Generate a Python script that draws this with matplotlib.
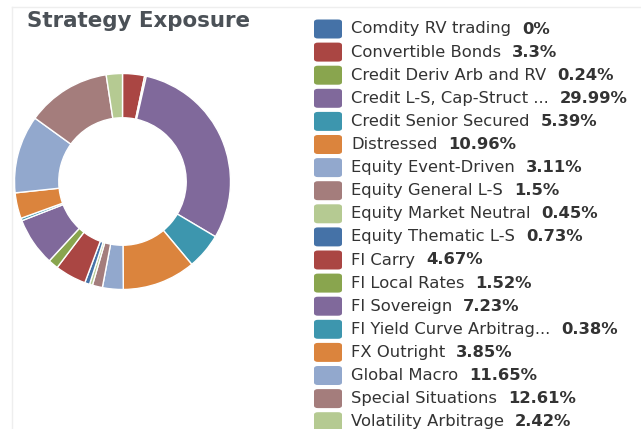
import matplotlib
matplotlib.use("Agg")
import matplotlib.pyplot as plt
from matplotlib.patches import FancyBboxPatch
from matplotlib.lines import Line2D

# strategy buckets and their exposure (%)
strategies = ["Comdity RV trading", "Convertible Bonds", "Credit Deriv Arb and RV",
              "Credit L-S, Cap-Struct ...", "Credit Senior Secured", "Distressed",
              "Equity Event-Driven", "Equity General L-S", "Equity Market Neutral",
              "Equity Thematic L-S", "FI Carry", "FI Local Rates", "FI Sovereign",
              "FI Yield Curve Arbitrag...", "FX Outright", "Global Macro",
              "Special Situations", "Volatility Arbitrage"]
exposure = [0, 3.3, 0.24, 29.99, 5.39, 10.96, 3.11, 1.5, 0.45,
            0.73, 4.67, 1.52, 7.23, 0.38, 3.85, 11.65, 12.61, 2.42]

palette = ["#4572A7", "#AA4643", "#89A54E", "#80699B", "#3D96AE",
           "#DB843D", "#92A8CD", "#A47D7C", "#B5CA92"]
colors = [palette[i % len(palette)] for i in range(len(strategies))]

W, H = 641, 429
fig = plt.figure(figsize=(W / 100, H / 100), dpi=100)
fig.patch.set_facecolor("white")

def fx(px):
    return px / W

def fy(py):
    return 1 - py / H

# faint panel border
fig.add_artist(Line2D([fx(12), fx(12)], [0, fy(7)], color="#eeeeee", lw=1))
fig.add_artist(Line2D([fx(12), 1], [fy(7), fy(7)], color="#eeeeee", lw=1))

fig.text(fx(27), fy(21), "Strategy Exposure", fontsize=15.4, fontweight="bold",
         color="#4b5157", va="center", ha="left", family="DejaVu Sans")

# donut
cx, cy, r = 122.5, 181.5, 108
ax = fig.add_axes([fx(cx - r), fy(cy + r), 2 * r / W, 2 * r / H])
ax.pie(exposure, colors=colors, startangle=90, counterclock=False, radius=1,
       wedgeprops=dict(width=0.41, edgecolor="white", linewidth=1.0))
ax.set_xlim(-1, 1)
ax.set_ylim(-1, 1)
ax.set_aspect("auto")
ax.axis("off")

# legend, drawn by hand so it can run off the bottom like the original
fig.canvas.draw()
renderer = fig.canvas.get_renderer()
row_h = 23.1
for i, (name, val, col) in enumerate(zip(strategies, exposure, colors)):
    yc = 29 + i * row_h
    box = FancyBboxPatch((fx(314), fy(yc + 9.5)), fx(28), 19 / H,
                         boxstyle="round,pad=0,rounding_size=0.006",
                         transform=fig.transFigure, facecolor=col,
                         edgecolor="none")
    fig.add_artist(box)
    t = fig.text(fx(351), fy(yc), name, fontsize=11.8, color="#333333",
                 va="center", ha="left", family="DejaVu Sans")
    bb = t.get_window_extent(renderer)
    gap = 11
    fig.text((bb.x1 + gap) / W, fy(yc), f"{val:g}%", fontsize=11.8,
             fontweight="bold", color="#333333", va="center", ha="left",
             family="DejaVu Sans")

fig.savefig("out.png", dpi=100)
